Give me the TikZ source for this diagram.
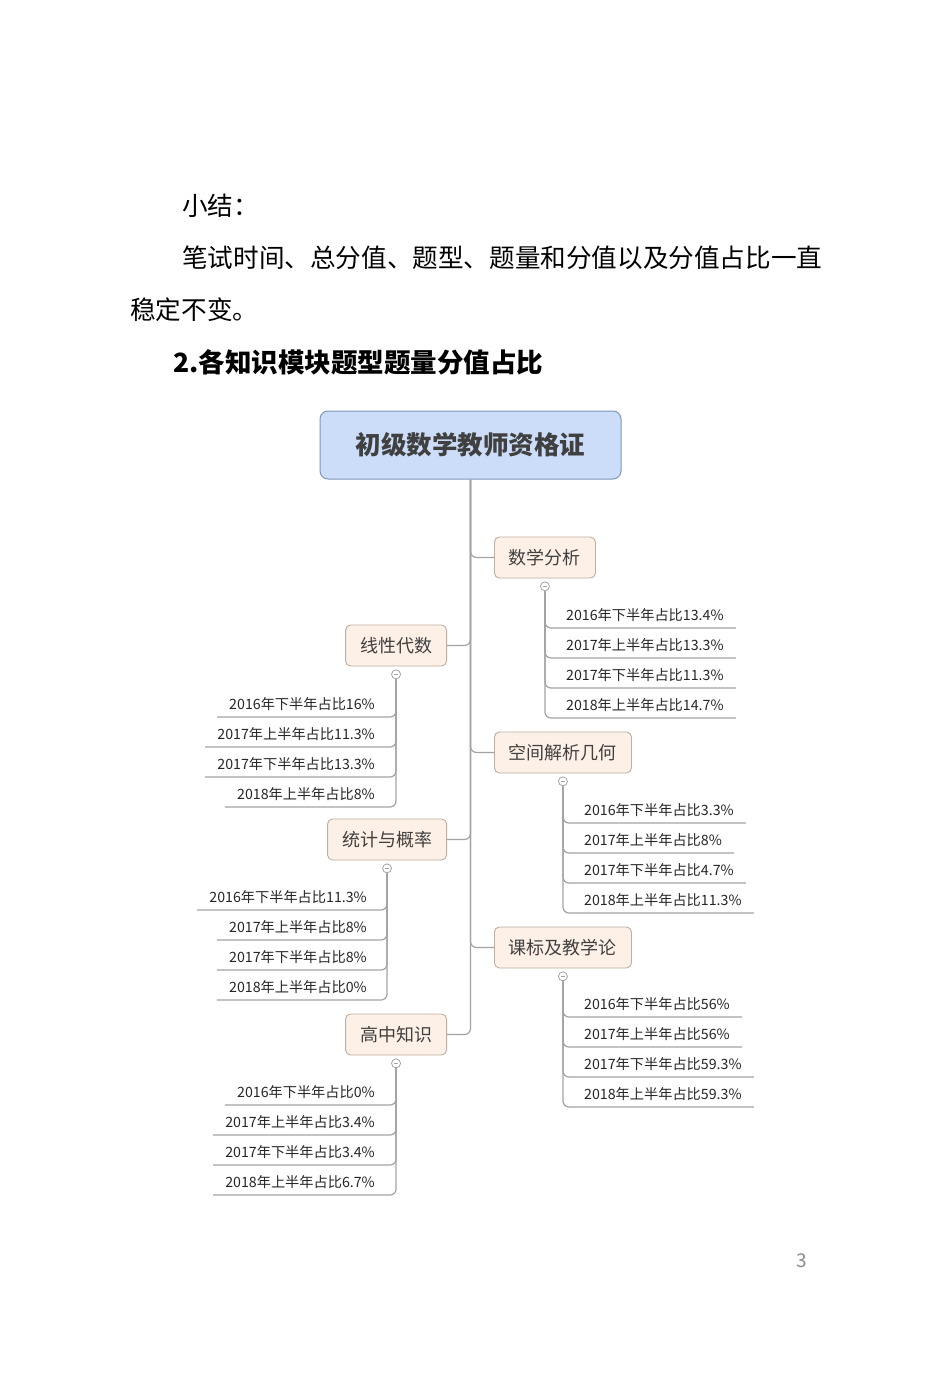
\documentclass[tikz,border=0pt]{standalone}
\usepackage{fontspec}
\setmainfont{Noto Sans CJK SC}
\usepackage{tikz}
\usetikzlibrary{positioning}
\usepackage{xcolor}
\definecolor{rootfill}{HTML}{CCDDF9}
\definecolor{rootline}{HTML}{7F95BC}
\definecolor{topicfill}{HTML}{FDF0E6}
\definecolor{topicline}{HTML}{BDAE9F}
\definecolor{linkgray}{HTML}{A3A3A3}
\definecolor{ink}{HTML}{404040}

\begin{document}
\begin{tikzpicture}[x=1pt, y=-1pt,
  body/.style={anchor=base west, inner sep=0pt, font=\fontsize{25.6}{30}\selectfont},
  root/.style={draw=rootline, fill=rootfill, rounded corners=8pt, line width=1pt,
               minimum width=301pt, minimum height=68pt, text=ink,
               font=\fontsize{25.5}{30}\selectfont\bfseries},
  topic/.style={draw=topicline, fill=topicfill, rounded corners=5pt, line width=0.9pt,
                minimum height=41pt, inner xsep=14.5pt, text=ink,
                font=\fontsize{18}{22}\selectfont},
  fold/.style={circle, draw=linkgray, fill=white, minimum size=9pt, inner sep=0pt,
               line width=0.8pt,
               path picture={\draw[linkgray, line width=0.8pt]
                 ([xshift=2.2pt]path picture bounding box.west) --
                 ([xshift=-2.2pt]path picture bounding box.east);}},
  leaf/.style={inner xsep=12pt, inner ysep=4pt, text height=11pt, text depth=3pt,
               text=black!85, font=\fontsize{14.2}{16}\selectfont},
  leafR/.style={leaf, anchor=south west},
  leafL/.style={leaf, anchor=south east},
  link/.style={draw=linkgray, line width=1.2pt, rounded corners=6pt}
]
  \useasboundingbox[fill=white] (0,0) rectangle (950,1378);

  % text above the map
  \node[body] (sum)  at (182,215) {小结：};
  \node[body] (line) at (182,267) {笔试时间、总分值、题型、题量和分值以及分值占比一直};
  \node[body] (rest) at (130,319) {稳定不变。};
  \node[body, font=\fontsize{26.5}{30}\selectfont\bfseries] (head) at (173,372)
    {2.各知识模块题型题量分值占比};

  % map
  \node[root] (root) at (470.5,445) {初级数学教师资格证};

  \node[topic, anchor=west] (sx) at (494,557.5)  {数学分析};
  \node[topic, anchor=west] (kj) at (494,752.5)  {空间解析几何};
  \node[topic, anchor=west] (kb) at (494,947.5)  {课标及教学论};
  \node[topic, anchor=east] (xd) at (447,645.5)  {线性代数};
  \node[topic, anchor=east] (tj) at (447,839.5)  {统计与概率};
  \node[topic, anchor=east] (gz) at (447,1034.5) {高中知识};

  \draw[link] (root.south) |- (sx.west);
  \draw[link] (root.south) |- (kj.west);
  \draw[link] (root.south) |- (kb.west);
  \draw[link] (root.south) |- (xd.east);
  \draw[link] (root.south) |- (tj.east);
  \draw[link] (root.south) |- (gz.east);

  \node[fold, below=3pt of sx] (fsx) {};
  \node[fold, below=3pt of kj] (fkj) {};
  \node[fold, below=3pt of kb] (fkb) {};
  \node[fold, below=3pt of xd] (fxd) {};
  \node[fold, below=3pt of tj] (ftj) {};
  \node[fold, below=3pt of gz] (fgz) {};

  % 数学分析
  \node[leafR] (sx1) at (554,628) {2016年下半年占比13.4\%};
  \node[leafR] (sx2) at (554,658) {2017年上半年占比13.3\%};
  \node[leafR] (sx3) at (554,688) {2017年下半年占比11.3\%};
  \node[leafR] (sx4) at (554,718) {2018年上半年占比14.7\%};
  \draw[link] (fsx.south) |- (sx4.south east);
  \draw[link] (fsx.south) |- (sx3.south east);
  \draw[link] (fsx.south) |- (sx2.south east);
  \draw[link] (fsx.south) |- (sx1.south east);

  % 空间解析几何
  \node[leafR] (kj1) at (572,823) {2016年下半年占比3.3\%};
  \node[leafR] (kj2) at (572,853) {2017年上半年占比8\%};
  \node[leafR] (kj3) at (572,883) {2017年下半年占比4.7\%};
  \node[leafR] (kj4) at (572,913) {2018年上半年占比11.3\%};
  \draw[link] (fkj.south) |- (kj4.south east);
  \draw[link] (fkj.south) |- (kj3.south east);
  \draw[link] (fkj.south) |- (kj2.south east);
  \draw[link] (fkj.south) |- (kj1.south east);

  % 课标及教学论
  \node[leafR] (kb1) at (572,1017) {2016年下半年占比56\%};
  \node[leafR] (kb2) at (572,1047) {2017年上半年占比56\%};
  \node[leafR] (kb3) at (572,1077) {2017年下半年占比59.3\%};
  \node[leafR] (kb4) at (572,1107) {2018年上半年占比59.3\%};
  \draw[link] (fkb.south) |- (kb4.south east);
  \draw[link] (fkb.south) |- (kb3.south east);
  \draw[link] (fkb.south) |- (kb2.south east);
  \draw[link] (fkb.south) |- (kb1.south east);

  % 线性代数
  \node[leafL] (xd1) at (387,717) {2016年下半年占比16\%};
  \node[leafL] (xd2) at (387,747) {2017年上半年占比11.3\%};
  \node[leafL] (xd3) at (387,777) {2017年下半年占比13.3\%};
  \node[leafL] (xd4) at (387,807) {2018年上半年占比8\%};
  \draw[link] (fxd.south) |- (xd4.south west);
  \draw[link] (fxd.south) |- (xd3.south west);
  \draw[link] (fxd.south) |- (xd2.south west);
  \draw[link] (fxd.south) |- (xd1.south west);

  % 统计与概率
  \node[leafL] (tj1) at (379,910)  {2016年下半年占比11.3\%};
  \node[leafL] (tj2) at (379,940)  {2017年上半年占比8\%};
  \node[leafL] (tj3) at (379,970)  {2017年下半年占比8\%};
  \node[leafL] (tj4) at (379,1000) {2018年上半年占比0\%};
  \draw[link] (ftj.south) |- (tj4.south west);
  \draw[link] (ftj.south) |- (tj3.south west);
  \draw[link] (ftj.south) |- (tj2.south west);
  \draw[link] (ftj.south) |- (tj1.south west);

  % 高中知识
  \node[leafL] (gz1) at (387,1105) {2016年下半年占比0\%};
  \node[leafL] (gz2) at (387,1135) {2017年上半年占比3.4\%};
  \node[leafL] (gz3) at (387,1165) {2017年下半年占比3.4\%};
  \node[leafL] (gz4) at (387,1195) {2018年上半年占比6.7\%};
  \draw[link] (fgz.south) |- (gz4.south west);
  \draw[link] (fgz.south) |- (gz3.south west);
  \draw[link] (fgz.south) |- (gz2.south west);
  \draw[link] (fgz.south) |- (gz1.south west);

  \node[text=black!45, font=\fontsize{19}{22}\selectfont] (page) at (802,1261) {3};
\end{tikzpicture}
\end{document}
